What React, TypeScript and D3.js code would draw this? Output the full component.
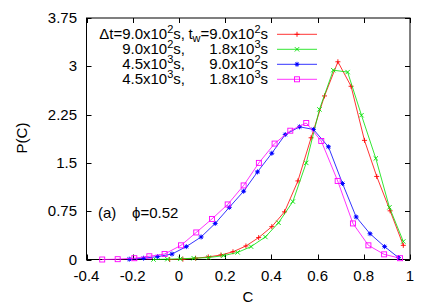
import * as React from "react";
import * as d3 from "d3";

// series: C values and P(C)
const redC = [-0.04, 0.017, 0.072, 0.127, 0.182, 0.234, 0.29, 0.345, 0.402, 0.457, 0.515, 0.572, 0.63, 0.688, 0.745, 0.803, 0.856, 0.914, 0.971];
const redP = [0, 0.005, 0.02, 0.04, 0.07, 0.12, 0.21, 0.34, 0.51, 0.74, 1.22, 1.89, 2.54, 3.07, 2.69, 1.85, 1.29, 0.756, 0.22];

const greenC = [-0.11, -0.05, 0.006, 0.064, 0.129, 0.193, 0.254, 0.312, 0.374, 0.431, 0.493, 0.551, 0.608, 0.668, 0.73, 0.79, 0.852, 0.911, 0.971];
const greenP = [0, 0.005, 0.01, 0.02, 0.03, 0.06, 0.11, 0.2, 0.35, 0.57, 0.9, 1.5, 2.33, 2.94, 2.91, 2.24, 1.57, 0.81, 0.28];

const blueC = [-0.215, -0.153, -0.092, -0.03, 0.032, 0.096, 0.157, 0.218, 0.28, 0.34, 0.402, 0.46, 0.522, 0.582, 0.647, 0.708, 0.767, 0.827, 0.89, 0.95];
const blueP = [0.005, 0.02, 0.045, 0.085, 0.2, 0.35, 0.56, 0.81, 1.06, 1.36, 1.65, 1.94, 2.06, 2.02, 1.75, 1.18, 0.66, 0.4, 0.2, 0.03];

const magC = [-0.332, -0.265, -0.193, -0.128, -0.062, 0.009, 0.075, 0.143, 0.211, 0.28, 0.346, 0.414, 0.482, 0.551, 0.616, 0.687, 0.753, 0.82, 0.888, 0.957];
const magP = [0, 0.005, 0.02, 0.05, 0.085, 0.22, 0.42, 0.63, 0.855, 1.15, 1.5, 1.8, 2.0, 2.12, 1.84, 1.22, 0.56, 0.22, 0.08, 0.02];

// legend text: [mantissa, exponent]
const dtLabels = [["9.0", "2"], ["9.0", "2"], ["4.5", "3"], ["4.5", "3"]];
const twLabels = [["9.0", "2"], ["1.8", "3"], ["9.0", "2"], ["1.8", "3"]];

const xTicks = [-0.4, -0.2, 0, 0.2, 0.4, 0.6, 0.8, 1];
const xTickLabels = ["-0.4", "-0.2", "0", "0.2", "0.4", "0.6", "0.8", "1"];
const yTicks = [0, 0.75, 1.5, 2.25, 3, 3.75];
const yTickLabels = ["0", "0.75", "1.5", "2.25", "3", "3.75"];

const FONT = "'Liberation Sans', Arial, Helvetica, sans-serif";
const FS = 15;

function marker(g, kind, color) {
  const sw = 0.9;
  if (kind === "plus") {
    g.append("path").attr("d", "M-2.5,0H2.5M0,-2.5V2.5").attr("stroke", color).attr("stroke-width", sw).attr("fill", "none");
  } else if (kind === "cross") {
    g.append("path").attr("d", "M-2.2,-2.2L2.2,2.2M-2.2,2.2L2.2,-2.2").attr("stroke", color).attr("stroke-width", sw).attr("fill", "none");
  } else if (kind === "star") {
    g.append("path").attr("d", "M-2.5,0H2.5M0,-2.5V2.5M-1.8,-1.8L1.8,1.8M-1.8,1.8L1.8,-1.8").attr("stroke", color).attr("stroke-width", sw).attr("fill", "none");
    g.append("rect").attr("x", -1.2).attr("y", -1.2).attr("width", 2.4).attr("height", 2.4).attr("fill", color);
  } else {
    g.append("rect").attr("x", -2.5).attr("y", -2.5).attr("width", 5).attr("height", 5).attr("stroke", color).attr("stroke-width", sw).attr("fill", "none");
  }
}

function expText(t, parts) {
  // appends "m x10^e s" with superscript exponent
  t.append("tspan").text(parts[0] + "x10");
  t.append("tspan").attr("dy", -6).attr("font-size", 11).text(parts[1]);
  t.append("tspan").attr("dy", 6).text("s");
}

function drawChart(svgRef) {
  const left = 86.5, right = 410, top = 18, bottom = 259.5;

  const x = d3.scaleLinear().domain([-0.4, 1]).range([left, right]);
  const y = d3.scaleLinear().domain([0, 3.75]).range([bottom, top]);

  const svg = d3.select(svgRef.current);
  svg.selectAll("*").remove();

  const series = [
    { c: redC, p: redP, color: "#ff0000", kind: "plus" },
    { c: greenC, p: greenP, color: "#00e000", kind: "cross" },
    { c: blueC, p: blueP, color: "#0000ff", kind: "star" },
    { c: magC, p: magP, color: "#ff00ff", kind: "square" },
  ];

  // ticks (inside, mirrored)
  const tl = 5;
  const axis = svg.append("g").attr("stroke", "#000").attr("stroke-width", 1);
  xTicks.forEach((v) => {
    const px = Math.round(x(v)) + 0.5;
    axis.append("line").attr("x1", px).attr("x2", px).attr("y1", bottom).attr("y2", bottom - tl);
    axis.append("line").attr("x1", px).attr("x2", px).attr("y1", top).attr("y2", top + tl);
  });
  yTicks.forEach((v) => {
    const py = Math.round(y(v)) + 0.5;
    axis.append("line").attr("x1", left).attr("x2", left + tl).attr("y1", py).attr("y2", py);
    axis.append("line").attr("x1", right).attr("x2", right - tl).attr("y1", py).attr("y2", py);
  });

  svg.append("rect")
    .attr("x", left).attr("y", top)
    .attr("width", right - left).attr("height", bottom - top)
    .attr("fill", "none").attr("stroke", "#000");

  // tick labels
  svg.append("g").selectAll("text").data(xTicks).enter().append("text")
    .attr("x", (d) => x(d)).attr("y", 281)
    .attr("text-anchor", "middle")
    .attr("font-family", FONT).attr("font-size", FS)
    .text((d, i) => xTickLabels[i]);
  svg.append("g").selectAll("text").data(yTicks).enter().append("text")
    .attr("x", 77).attr("y", (d) => y(d) + 5)
    .attr("text-anchor", "end")
    .attr("font-family", FONT).attr("font-size", FS)
    .text((d, i) => yTickLabels[i]);

  // axis titles
  svg.append("text").attr("x", 248).attr("y", 302)
    .attr("text-anchor", "middle").attr("font-family", FONT).attr("font-size", FS).text("C");
  svg.append("text").attr("transform", "translate(27,138) rotate(-90)")
    .attr("text-anchor", "middle").attr("font-family", FONT).attr("font-size", FS).text("P(C)");

  // curves
  const line = d3.line().x((d) => x(d[0])).y((d) => y(d[1]));
  series.forEach((s) => {
    const pts = s.c.map((c, i) => [c, s.p[i]]);
    svg.append("path").attr("d", line(pts)).attr("fill", "none").attr("stroke", s.color).attr("stroke-width", 0.8);
    pts.forEach((p) => {
      const g = svg.append("g").attr("transform", `translate(${x(p[0])},${y(p[1])})`);
      marker(g, s.kind, s.color);
    });
  });

  // legend
  const rowY = [34.3, 49.3, 64.3, 79.3];
  series.forEach((s, i) => {
    const ly = rowY[i];
    svg.append("line").attr("x1", 277).attr("x2", 317).attr("y1", ly).attr("y2", ly)
      .attr("stroke", s.color).attr("stroke-width", 0.8);
    const g = svg.append("g").attr("transform", `translate(297,${ly})`);
    marker(g, s.kind, s.color);

    const t1 = svg.append("text").attr("x", 185).attr("y", ly + 5)
      .attr("text-anchor", "end").attr("font-family", FONT).attr("font-size", FS);
    if (i === 0) t1.append("tspan").text("\u0394t=");
    expText(t1, dtLabels[i]);
    t1.append("tspan").text(",");

    const t2 = svg.append("text").attr("x", 268).attr("y", ly + 5)
      .attr("text-anchor", "end").attr("font-family", FONT).attr("font-size", FS);
    if (i === 0) {
      t2.append("tspan").text("t");
      t2.append("tspan").attr("dy", 3).attr("font-size", 11).text("w");
      t2.append("tspan").attr("dy", -3).text("=");
    }
    expText(t2, twLabels[i]);
  });

  // annotation
  svg.append("text").attr("x", 98).attr("y", 218)
    .attr("font-family", FONT).attr("font-size", FS).text("(a)");
  svg.append("text").attr("x", 132).attr("y", 218)
    .attr("font-family", FONT).attr("font-size", FS).text("\u03d5=0.52");
}

const App = () => {
  const svgRef = React.useRef(null);

  React.useEffect(() => {
    drawChart(svgRef);
  }, [svgRef]);

  return (
    <svg
      ref={svgRef}
      width={436}
      height={305}
      style={{ position: "absolute", left: 0, top: 0, background: "#fff" }}
    />
  );
};

export default App;
